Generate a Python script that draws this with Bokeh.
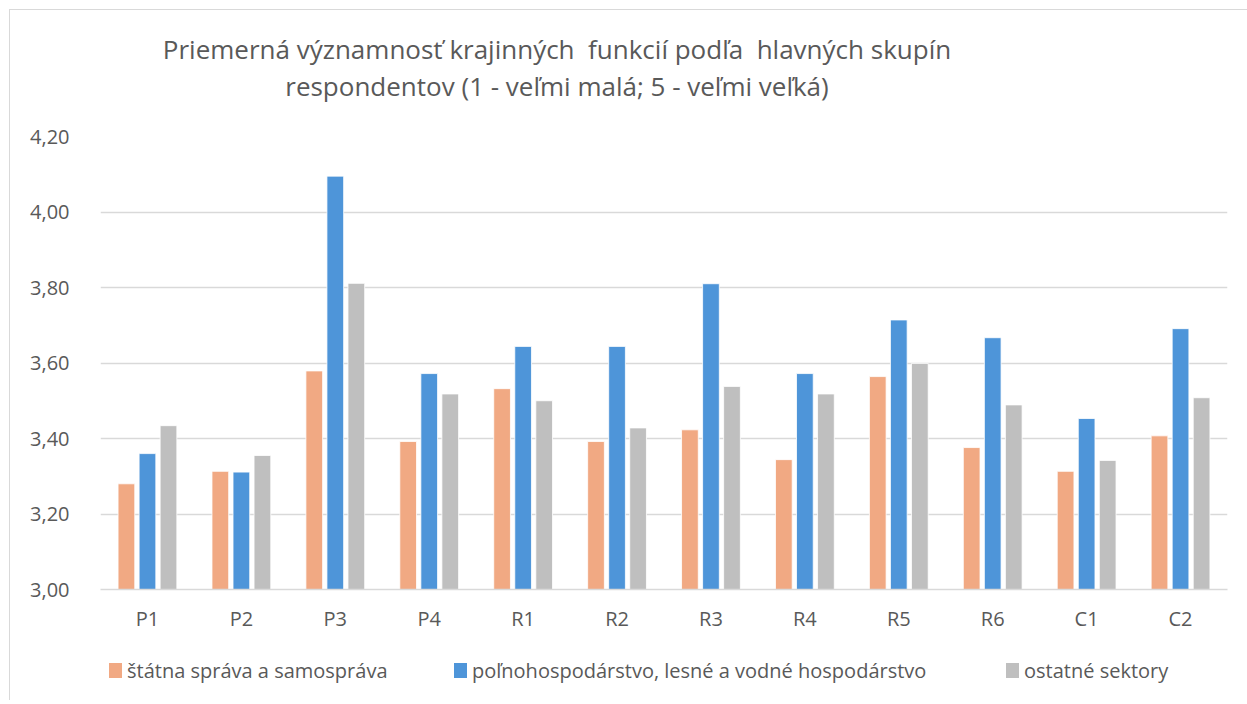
from bokeh.plotting import figure
from bokeh.layouts import column
from bokeh.models import FactorRange, FixedTicker, ColumnDataSource, Div
from bokeh.transform import dodge
from bokeh.embed import file_html
from bokeh.resources import INLINE

categories = ["P1", "P2", "P3", "P4", "R1", "R2", "R3", "R4", "R5", "R6", "C1", "C2"]
statna = [3.28, 3.313, 3.579, 3.392, 3.532, 3.392, 3.423, 3.344, 3.564, 3.376, 3.313, 3.407]
polno = [3.36, 3.311, 4.095, 3.572, 3.644, 3.644, 3.810, 3.572, 3.714, 3.667, 3.453, 3.691]
ostatne = [3.434, 3.355, 3.811, 3.518, 3.50, 3.428, 3.538, 3.518, 3.599, 3.489, 3.342, 3.508]
series_names = ["štátna správa a samospráva",
                "poľnohospodárstvo, lesné a vodné hospodárstvo",
                "ostatné sektory"]
colors = ["#F1A983", "#4E95D9", "#BFBFBF"]
y_ticks = [3.0, 3.2, 3.4, 3.6, 3.8, 4.0, 4.2]
y_labels = ["3,00", "3,20", "3,40", "3,60", "3,80", "4,00", "4,20"]
title_lines = ["Priemerná významnosť krajinných  funkcií podľa  hlavných skupín",
               "respondentov (1 - veľmi malá; 5 - veľmi veľká)"]

FONT = "Open Sans"
TXT = "#595959"

src = ColumnDataSource(dict(cat=categories, a=statna, b=polno, c=ostatne))

p = figure(x_range=FactorRange(*categories, range_padding=0), y_range=(3.0, 4.2),
           frame_width=1127, frame_height=453, output_backend="svg", toolbar_location=None,
           min_border_left=90, min_border_right=10, min_border_top=16, min_border_bottom=45)
p.outline_line_color = None
p.background_fill_color = "white"
p.border_fill_color = "white"

for key, off, col in zip(["a", "b", "c"], [-0.224, 0.0, 0.224], colors):
    p.vbar(x=dodge("cat", off, range=p.x_range), top=key, bottom=3.0, width=0.178,
           source=src, fill_color=col, line_color="white", line_width=0.8)

p.xgrid.grid_line_color = None
p.ygrid.grid_line_color = "#D9D9D9"
p.ygrid.grid_line_width = 1.5
p.yaxis.ticker = FixedTicker(ticks=y_ticks)
p.yaxis.major_label_overrides = {t: l for t, l in zip(y_ticks, y_labels)}
p.yaxis.axis_line_color = None
p.yaxis.major_tick_line_color = None
p.yaxis.minor_tick_line_color = None
p.yaxis.major_label_standoff = 25
p.xaxis.axis_line_color = "#D9D9D9"
p.xaxis.axis_line_width = 1.5
p.xaxis.major_tick_line_color = None
p.xaxis.minor_tick_line_color = None
p.xaxis.major_label_standoff = 9
for ax in (p.xaxis, p.yaxis):
    ax.major_label_text_font = FONT
    ax.major_label_text_font_size = "20px"
    ax.major_label_text_color = TXT

title_html = (
    '<div style="position:relative;width:1227px;height:100px;">'
    '<div style="position:absolute;left:0;top:16px;width:1084px;text-align:center;'
    'white-space:pre;font-family:\'Open Sans\';font-size:26px;line-height:37px;color:%s;">'
    '%s<br>%s</div></div>' % (TXT, title_lines[0], title_lines[1])
)
title_div = Div(text=title_html, width=1227, height=100)

# legend drawn as HTML below the plot
glyph_left = [94, 439, 991]
items = []
for name, col, gx in zip(series_names, colors, glyph_left):
    items.append('<div style="position:absolute;left:%dpx;top:24px;width:13px;height:15px;'
                 'background:%s;"></div>' % (gx, col))
    items.append('<div style="position:absolute;left:%dpx;top:18px;white-space:nowrap;'
                 'font-family:\'Open Sans\';font-size:20px;line-height:28px;color:%s;">%s</div>'
                 % (gx + 18, TXT, name))
legend_html = '<div style="position:relative;width:1227px;height:56px;">%s</div>' % "".join(items)
legend_div = Div(text=legend_html, width=1227, height=56)

layout = column(title_div, p, legend_div, spacing=0,
                styles={"border-top": "1px solid #D9D9D9", "border-left": "1px solid #D9D9D9",
                        "margin-left": "9px", "margin-top": "9px"})

open("out.html", "w").write(file_html(layout, INLINE))
